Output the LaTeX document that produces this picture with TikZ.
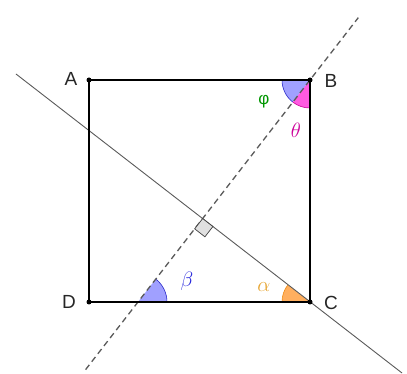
\documentclass[tikz,border=0pt]{standalone}
\usepackage{fontspec}
\setmainfont{Liberation Sans}
\usetikzlibrary{calc,angles}
\definecolor{bluefill}{RGB}{160,160,255}
\definecolor{bluedraw}{RGB}{40,40,200}
\definecolor{pinkfill}{RGB}{255,90,225}
\definecolor{pinkdraw}{RGB}{200,0,150}
\definecolor{orangefill}{RGB}{255,175,95}
\definecolor{orangedraw}{RGB}{240,140,20}
\definecolor{phigreen}{RGB}{0,150,0}
\definecolor{thetapink}{RGB}{204,0,153}
\definecolor{betablue}{RGB}{40,40,220}
\definecolor{alphaorange}{RGB}{230,165,50}
\definecolor{linegray}{RGB}{90,90,90}
\tikzset{
  sqside/.style={line width=1.4pt, black},
  solidline/.style={line width=0.9pt, linegray},
  dashline/.style={line width=1.3pt, linegray, dash pattern=on 6pt off 4pt},
  ptdot/.style={circle, fill=black, inner sep=0pt, minimum size=5pt},
  ptlabel/.style={font=\fontsize{19}{22}\selectfont, text=black!85},
  glabel/.style={font=\fontsize{22}{25}\selectfont},
  sectorblue/.style={draw=bluedraw, fill=bluefill, line width=0.6pt},
  sectorpink/.style={draw=pinkdraw, fill=pinkfill, line width=0.6pt},
  sectororange/.style={draw=orangedraw, fill=orangefill, line width=0.6pt},
}
\begin{document}
\begin{tikzpicture}[x=1pt,y=1pt]
\useasboundingbox (0,0) rectangle (407,374);
\coordinate (A) at (89,294);
\coordinate (B) at (310,294);
\coordinate (C) at (310,72);
\coordinate (D) at (89,72);
\coordinate (L1) at (16,300);
\coordinate (L2) at (402,1);
\coordinate (H) at ($(L1)!(B)!(L2)$);
\coordinate (E) at (intersection of B--H and D--C);
\coordinate (M1) at ($(B)!-0.45!(H)$);
\coordinate (M2) at ($(B)!2.09!(H)$);
% angle sectors
\pic[sectorblue, angle radius=28pt] {angle=A--B--H};
\pic[sectorpink, angle radius=28pt] {angle=H--B--C};
\pic[sectororange, angle radius=28pt] {angle=L1--C--D};
\pic[sectorblue, angle radius=29pt] {angle=C--E--B};
% lines
\draw[solidline] (L1) -- (L2);
\draw[dashline] (M2) -- (M1);
% right angle mark
\coordinate (H1) at ($(H)!13pt!(C)$);
\coordinate (H2) at ($(H)!13pt!(E)$);
\coordinate (H3) at ($(H1)+(H2)-(H)$);
\draw[fill=black!12, draw=black!75, line width=0.7pt] (H) -- (H1) -- (H3) -- (H2) -- cycle;
% square
\draw[sqside] (A) -- (B) -- (C) -- (D) -- cycle;
\node[ptdot] (pA) at (A) {};
\node[ptdot] (pB) at (B) {};
\node[ptdot] (pC) at (C) {};
\node[ptdot] (pD) at (D) {};
% labels
\node[ptlabel] (tA) at (71,295) {A};
\node[ptlabel] (tB) at (331,293) {B};
\node[ptlabel] (tC) at (331,71) {C};
\node[ptlabel] (tD) at (69,72) {D};
\node[glabel, text=phigreen, font=\fontsize{17}{19}\selectfont] (tphi) at (264,272) {φ};
\node[glabel, text=thetapink] (ttheta) at (296,244) {$\theta$};
\node[glabel, text=betablue] (tbeta) at (187,93) {$\beta$};
\node[glabel, text=alphaorange] (talpha) at (264,87) {$\alpha$};
\end{tikzpicture}
\end{document}
